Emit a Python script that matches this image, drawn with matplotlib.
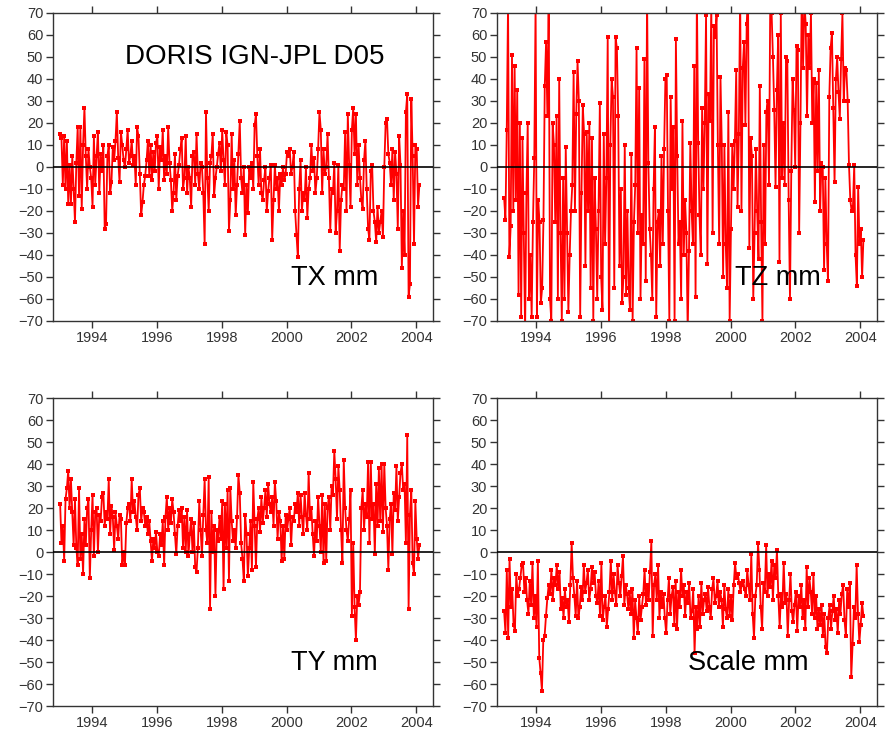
import numpy as np
import matplotlib
matplotlib.use('Agg')
import matplotlib.pyplot as plt

plt.rcParams['font.family'] = ['Liberation Sans', 'DejaVu Sans']

# Half-monthly samples, 1993.0 .. ~2004.1
t_start = 1993.0
t_end = 2004.1

tx_mm = [
  15, 13, -8, 14, -10, 12, -17, 1, -17, 5, -10, -25, 2, 18, -13, 18, -19, 10, 27, 5, -10, 8, 0, -5,
  -18, 14, -8, 5, 16, -12, 6, -2, 10, -28, -26, 5, 10, -12, -7, 9, 3, 12, 25, 4, -7, 16, 10, 3,
  0, 8, 17, 2, 5, 12, 1, 5, -8, 18, 14, -3, -22, -16, -8, -4, 3, 12, -4, 10, -6, 7, -2, 11,
  14, -10, 9, 3, 17, -6, 5, -3, 18, 2, -6, -20, -12, 6, -15, -4, 1, 8, 13, -10, -5, 14, -12, 0,
  -5, -18, 5, 7, -8, 15, -3, -10, 2, 0, -12, -35, 25, -5, -20, 2, 5, 15, -13, -5, 0, 6, 11, -2,
  17, 3, -8, 16, 10, -29, -15, 15, -10, 3, -22, -8, 6, 21, -5, -12, 0, -31, -8, -21, 0, -5, 2, -10,
  19, 24, 5, -8, 8, -12, -15, -6, 0, -20, -11, -5, 1, -33, -15, 1, -10, -5, -20, -3, -8, 0, -6, -3,
  7, 5, 8, -3, 0, 7, -20, -31, -41, -10, 3, -20, -12, -15, 0, -23, -10, -5, 10, -2, 4, -12, -5, 8,
  25, 17, -12, 8, -3, 0, 15, -5, -29, -10, -12, 2, -30, -20, 1, -38, -15, -8, -10, 16, -20, 24, 1, -18,
  17, 27, 6, 24, -8, 10, -5, -15, -19, 3, 12, -10, -28, -33, -2, 1, -20, -25, -34, -18, -30, -25, -20, -32,
  0, 20, 22, 6, 2, -8, 8, -15, 7, -3, -28, 14, 1, -46, -20, -40, 25, 33, -59, -53, 31, 5, -35, 10,
  8, -18, -8,
]

tz_mm = [
  -14, -24, 17, 75, -41, -27, 51, -20, 46, -15, 35, -58, 20, -68, 13, -30, -75, -12, 20, -60, -40, -68, -25, 4,
  75, -68, -15, -25, -62, -55, -24, 37, 57, 23, 80, -60, -70, 20, 10, -25, 23, -60, 40, -30, -70, -5, -60, 9,
  -30, -66, -40, -20, -8, 43, -20, 24, 48, 30, -68, -12, 28, 15, -45, 16, -20, 20, -55, 13, -70, -5, -28, -60,
  -20, 29, -50, -65, 15, -35, -5, 59, -80, 10, 40, 32, -55, 59, 54, 23, -45, -10, -62, -50, 10, -58, -20, -55,
  -65, 6, -70, -25, -8, 54, -30, 36, -60, -22, -35, 49, -52, 80, 2, -28, -40, -60, -10, 18, -68, -25, -20, -45,
  5, -35, 8, 40, 42, -20, -70, 32, -10, 18, -70, 58, 5, -35, -25, -60, 21, -40, -15, -30, -75, -38, 11, -20,
  -35, 46, -59, 80, 11, -22, -40, 27, -10, 20, 69, -44, 33, 21, 75, -30, 64, 59, 69, 10, -35, 41, 10, -50,
  10, -35, -55, 25, -70, -28, 10, -10, 12, 44, -18, 15, 80, -20, 45, 57, 19, 65, 80, -37, 13, 5, -60, -30,
  8, -20, -42, 37, -25, -70, 10, -35, 25, 30, -8, 80, 70, 50, 26, -9, 35, 60, -43, 70, -5, 20, -8, 50,
  48, -15, -60, -2, 40, 26, 0, 55, 53, -30, 20, 80, 45, 75, 65, 23, 60, 45, 70, 20, 40, -16, 38, -2,
  44, -20, 2, 0, -47, -5, -35, -52, 32, 54, 61, 27, -7, 40, 50, 34, 22, 49, 70, 30, 45, 44, 30, 1,
  -15, -20, -18, 1, -40, -54, -9, -35, -28, -50, -33,
]

ty_mm = [
  22, 4, 12, -4, 24, 29, 37, 20, 33, 18, 3, 24, 2, -6, 29, -3, 8, -10, 15, 3, 20, 24, -12, 10,
  26, -2, 18, 20, 0, 17, 14, 25, 27, 12, 18, 15, 33, 8, 21, 16, 1, 18, 12, 6, 17, 15, -6, 0,
  -6, 13, 20, 22, 14, 33, 18, 23, 16, 10, 26, 29, 14, 20, 18, 12, 16, 8, 14, 5, -4, 6, 2, 9,
  0, -2, 8, 3, 14, -6, 16, 25, 10, 20, 13, 24, 18, 8, -1, 12, 19, 14, 20, 2, 16, 0, 19, -2,
  8, 15, 0, 13, -7, -9, 2, 23, 10, -2, 17, 33, 10, 4, 34, -26, 18, 0, 12, -20, 10, 5, 16, 6,
  23, -17, 22, 2, 28, -13, 29, 14, 5, 10, 2, 16, 35, 27, 4, -3, -13, 17, 8, -11, 2, 14, -8, 32,
  12, -7, 15, 20, 9, 25, 13, 20, 28, 16, 31, 22, 18, 25, 12, 32, 23, 6, 18, 14, -4, 12, -3, 17,
  10, 15, 20, 3, 16, 14, 22, 18, 27, 12, 26, 16, 8, 27, 17, 10, 36, 15, 20, 8, -2, 14, 5, 25,
  12, 0, 26, -5, 22, -4, 20, 25, 10, 30, 26, 46, 33, 15, 39, 28, 10, -5, 42, 20, 10, 5, 15, 28,
  -29, 4, -25, -40, -20, -24, -18, 20, 28, 10, 22, 16, 41, 4, 41, 15, 22, -1, 31, 12, 38, 14, 40, 9,
  40, 20, 12, -8, 15, 22, -1, 27, 19, 39, 14, 25, 36, 40, 28, 31, 4, 53, -26, 17, 28, -5, -10, 23,
  6, -3, 3,
]

scale_mm = [
  -27, -37, -8, -39, -3, -25, -17, -33, -36, -10, -20, -17, -12, -6, -5, -18, -12, -22, -28, -13, -24, -5, -30, -20,
  -34, -4, -48, -55, -63, -40, -38, -29, -21, -15, -19, -8, -22, -12, -15, -6, -17, -9, -26, -21, -30, -17, -25, -22,
  -32, -15, 4, -12, -20, -29, -13, -30, -25, -16, -22, -6, -18, -14, -8, -22, -17, -7, -14, -9, -20, -23, -13, -29,
  -5, -31, -25, -20, -34, -26, -18, -4, -22, -10, -18, -24, -6, -14, -20, -11, -2, -24, -15, -19, -26, -18, -28, -17,
  -39, -22, -30, -37, -20, -31, -25, -19, -8, -24, -15, -22, -9, 5, -38, -15, -10, -22, -6, -30, -18, -25, -19, -30,
  -37, -22, -12, -28, -20, -16, -33, -13, -35, -18, -25, -8, -20, -15, -29, -18, -23, -14, -30, -27, -17, -46, -25, -35,
  -20, -34, -14, -28, -22, -19, -27, -16, -25, -30, -17, -12, -23, -20, -13, -25, -18, -22, -34, -15, -26, -30, -17, -29,
  -20, -31, -15, -5, -12, -10, -14, -18, -15, -13, -17, -20, -8, -15, -22, -1, -28, -39, -20, -15, 4, -8, -25, -35,
  -14, -18, 3, -20, -10, -16, -4, -22, -6, -12, 1, -20, -34, -19, -25, -5, -23, -19, -38, -22, -10, -27, -32, -24,
  -18, -36, -20, -25, -15, -30, -22, -35, -7, -25, -12, -18, -28, -10, -30, -20, -35, -26, -33, -24, -38, -28, -43, -46,
  -30, -24, -35, -27, -20, -31, -26, -37, -22, -28, -19, -15, -31, -38, -17, -25, -14, -57, -42, -25, -30, -6, -28, -41,
  -33, -23, -29,
]

panels = [
  (tx_mm, 'TX mm', 0.74),
  (tz_mm, 'TZ mm', 0.74),
  (ty_mm, 'TY mm', 0.74),
  (scale_mm, 'Scale mm', 0.66),
]
year_ticks = [1994, 1996, 1998, 2000, 2002, 2004]
y_ticks = list(range(-70, 71, 10))

fig = plt.figure(figsize=(8.85, 7.38), dpi=100)
ax_w = 380 / 885
ax_h = 308 / 738
lefts = [53 / 885, 497 / 885]
bottoms = [(738 - 321) / 738, (738 - 706) / 738]

for i, (vals, label, lx) in enumerate(panels):
  ax = fig.add_axes([lefts[i % 2], bottoms[i // 2], ax_w, ax_h])
  t = np.linspace(t_start, t_end, len(vals))
  ax.plot(t, vals, '-', color='#ff0000', linewidth=1.3, marker='s',
          markersize=3.2, markeredgewidth=0, clip_on=True)
  ax.axhline(0, color='black', linewidth=1.2, zorder=3)
  ax.set_xlim(1992.78, 2004.52)
  ax.set_ylim(-70, 70)
  ax.set_xticks(year_ticks)
  ax.set_yticks(y_ticks)
  ax.tick_params(direction='out', length=5, width=1, color='#333333',
                 labelcolor='#333333', labelsize=10.5,
                 top=True, right=True, pad=2)
  for s in ax.spines.values():
    s.set_color('#333333')
    s.set_linewidth(1.0)
  ax.text(lx, 0.14, label, transform=ax.transAxes, fontsize=19.5,
          ha='center', va='center', color='black', zorder=5)
  if i == 0:
    ax.text(0.53, 0.857, 'DORIS IGN-JPL D05', transform=ax.transAxes,
            fontsize=20, ha='center', va='center', color='black')

fig.savefig('out.png', dpi=100)
